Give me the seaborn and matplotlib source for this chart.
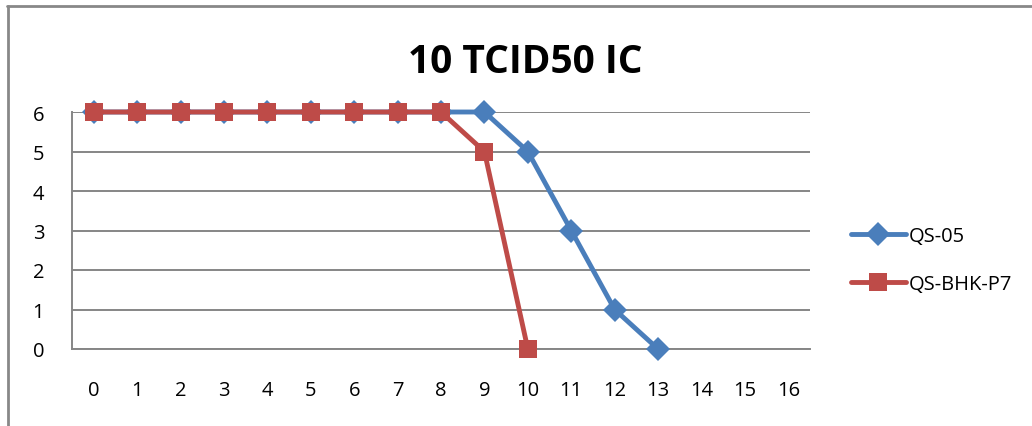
import matplotlib
matplotlib.use("Agg")
import matplotlib.pyplot as plt
import seaborn as sns
import pandas as pd
from matplotlib.lines import Line2D

sns.set_theme(style="white")
plt.rcParams['font.family'] = ['Open Sans', 'DejaVu Sans']
plt.rcParams['text.color'] = 'black'
plt.rcParams['xtick.labelcolor'] = 'black'
plt.rcParams['ytick.labelcolor'] = 'black'

# Series data
title = "10 TCID50 IC"
categories = list(range(17))
qs05_x = [0, 1, 2, 3, 4, 5, 6, 7, 8, 9, 10, 11, 12, 13]
qs05_y = [6, 6, 6, 6, 6, 6, 6, 6, 6, 6, 5, 3, 1, 0]
bhk_x = [0, 1, 2, 3, 4, 5, 6, 7, 8, 9, 10]
bhk_y = [6, 6, 6, 6, 6, 6, 6, 6, 6, 5, 0]
series_names = ["QS-05", "QS-BHK-P7"]
y_ticks = [0, 1, 2, 3, 4, 5, 6]

blue = "#4A7EBB"
red = "#BE4B48"
grid_c = "#868686"

df = pd.concat([
    pd.DataFrame({"x": qs05_x, "y": qs05_y, "series": series_names[0]}),
    pd.DataFrame({"x": bhk_x, "y": bhk_y, "series": series_names[1]}),
])

fig = plt.figure(figsize=(10.32, 4.27), dpi=100)
ax = fig.add_axes([72 / 1032, 1 - 350 / 427, (810 - 72) / 1032, (350 - 113) / 427])

styles = [(series_names[0], blue, "D", 12), (series_names[1], red, "s", 13.5)]
for name, color, marker, ms in styles:
    sub = df[df["series"] == name]
    sns.lineplot(data=sub, x="x", y="y", ax=ax, color=color, linewidth=3.5,
                 marker=marker, markersize=ms, markeredgewidth=0,
                 markeredgecolor=color, legend=False, zorder=3, clip_on=False)

ax.set_xlim(-0.5, 16.5)
ax.set_ylim(0, 6)
ax.set_yticks(y_ticks)
ax.set_yticklabels([str(v) for v in y_ticks], fontsize=14.5)
ax.set_xticks(categories)
ax.set_xticklabels([str(c) for c in categories], fontsize=14.5)
ax.set_xticks([c - 0.5 for c in categories] + [16.5], minor=True)
ax.tick_params(axis="x", which="major", length=0, pad=22)
ax.tick_params(axis="x", which="minor", length=6, width=1.4, color=grid_c, direction="out")
ax.tick_params(axis="y", which="major", length=6, width=1.4, color=grid_c, direction="out", pad=14)
ax.set_xlabel("")
ax.set_ylabel("")

ax.grid(axis="y", color=grid_c, linewidth=1.4, zorder=0)
ax.grid(axis="x", visible=False)
for s in ["top", "right"]:
    ax.spines[s].set_visible(False)
for s in ["left", "bottom"]:
    ax.spines[s].set_color(grid_c)
    ax.spines[s].set_linewidth(1.4)

fig.text(525 / 1032, 1 - 73 / 427, title, fontsize=28, fontweight="bold",
         ha="center", va="baseline", color="black")

handles = [
    Line2D([0], [0], color=blue, linewidth=3.5, marker="D", markersize=12, markeredgewidth=0),
    Line2D([0], [0], color=red, linewidth=3.5, marker="s", markersize=13.5, markeredgewidth=0),
]
fig.legend(handles, series_names, loc="center left", bbox_to_anchor=(833 / 1032, 1 - 261 / 427),
           frameon=False, fontsize=14.5, handlelength=2.7, handletextpad=0.15, labelspacing=1.4,
           labelcolor="black")

# Outer chart border
fig.add_artist(Line2D([8 / 1032, 8 / 1032], [0, 1 - 7 / 427], color="#888888", linewidth=2,
                      transform=fig.transFigure))
fig.add_artist(Line2D([7 / 1032, 1], [1 - 7 / 427, 1 - 7 / 427], color="#888888", linewidth=2,
                      transform=fig.transFigure))

fig.savefig("out.png", dpi=100, facecolor="white")
